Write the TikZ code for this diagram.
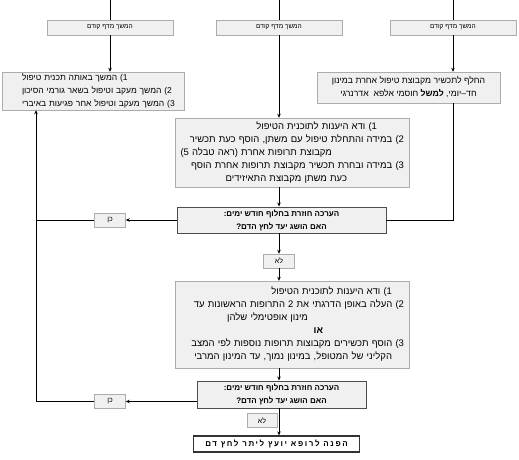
\documentclass[tikz,border=0pt]{standalone}
\usepackage{fontspec}
\usetikzlibrary{arrows.meta}
\newfontfamily\heb[Script=Hebrew]{Liberation Sans}
\TeXXeTstate=1
\newcommand\hebline[2][0pt]{\mbox{\beginR\hspace*{#1}#2\endR}}
\tikzset{
  arr/.style={-{Stealth[length=4pt,width=3.5pt]}},
  cont/.style={draw=gray!65, fill=gray!12, minimum width=126pt, minimum height=15pt,
    inner sep=1pt, font=\heb\fontsize{6.5}{8}\selectfont},
  textbox/.style={draw=gray!65, fill=gray!12, inner sep=1pt,
    font=\heb\fontsize{9}{13}\selectfont},
  stepbox/.style={textbox, align=right, text width=224pt, inner xsep=5pt,
    font=\heb\fontsize{9.5}{13}\selectfont},
  decide/.style={draw=black!70, line width=0.9pt, fill=gray!12, inner sep=1pt, align=center,
    font=\heb\bfseries\fontsize{8}{13}\selectfont},
  answer/.style={draw=gray!65, fill=gray!12, minimum width=31pt, minimum height=14pt,
    inner sep=1pt, font=\heb\fontsize{7}{8}\selectfont},
  refer/.style={draw=black!80, line width=1.3pt, fill=white, minimum width=166pt,
    minimum height=16pt, inner sep=1pt,
    font=\heb\bfseries\fontsize{8}{9}\selectfont\addfontfeature{LetterSpace=20}},
}
\begin{document}
\begin{tikzpicture}[x=1pt,y=-1pt]
  \useasboundingbox (0,0) rectangle (519,460);
  \draw
    (110,27.5) node[cont] (prev1){\hebline{המשך מדף קודם}}
    (279,27.5) node[cont] (prev2){\hebline{המשך מדף קודם}}
    (453,27.5) node[cont] (prev3){\hebline{המשך מדף קודם}};
  \coordinate (top1) at (110,0);
  \coordinate (top2) at (279,0);
  \coordinate (top3) at (453,0);
  \coordinate (lft) at (36,0);
  \node[textbox, align=left, text width=142pt, inner xsep=20pt, minimum height=38pt,
        font=\heb\fontsize{8.5}{13}\selectfont] (keep) at (93,91)
    {\hebline{1) המשך באותה תכנית טיפול}\\
     \hebline{2) המשך מעקב וטיפול בשאר גורמי הסיכון}\\
     \hebline{3) המשך מעקב וטיפול אחר פגיעות באיברי}};
  \node[textbox, align=center, minimum width=183pt, minimum height=31pt,
        font=\heb\fontsize{8.7}{13}\selectfont] (swap) at (408.5,87.5)
    {\hebline{החלף לתכשיר מקבוצת טיפול אחרת במינון}\\
     \hebline{חד–יומי, \textbf{למשל} חוסמי אלפא\ \ אדרנרגי}};
  \node[stepbox, minimum height=69pt] (step1) at (292,152.5)
    {\hebline[27pt]{1) ודא היענות לתוכנית הטיפול}\\
     \hebline{2) במידה והתחלת טיפול עם משתן, הוסף כעת תכשיר}\\
     \hebline[72pt]{מקבוצת תרופות אחרת (ראה טבלה 5)}\\
     \hebline{3) במידה ובחרת תכשיר מקבוצת תרופות אחרת הוסף}\\
     \hebline[57pt]{כעת משתן מקבוצת התאיזידים}};
  \node[decide, minimum width=209pt, minimum height=26pt] (check1) at (281.5,220)
    {\hebline{הערכה חוזרת בחלוף חודש ימים:}\\ \hebline{האם הושג יעד לחץ הדם?}};
  \node[answer] (yes1) at (110,220) {\hebline{כן}};
  \node[answer] (no1) at (279,261) {\hebline{לא}};
  \node[stepbox, minimum height=87pt] (step2) at (292,324.5)
    {\hebline[12pt]{1) ודא היענות לתוכנית הטיפול}\\
     \hebline{2) העלה באופן הדרגתי את 2 התרופות הראשונות עד}\\
     \hebline[96pt]{מינון אופטימלי שלהן}\\
     \hebline[81pt]{\textbf{או}}\\
     \hebline{3) הוסף תכשירים מקבוצות תרופות נוספות לפי המצב}\\
     \hebline[12pt]{הקליני של המטופל, במינון נמוך, עד המינון המרבי}};
  \node[decide, minimum width=169pt, minimum height=27pt] (check2) at (281.5,394.5)
    {\hebline{הערכה חוזרת בחלוף חודש ימים:}\\ \hebline{האם הושג יעד לחץ הדם?}};
  \node[answer] (yes2) at (110,401.5) {\hebline{כן}};
  \node[answer, minimum width=30pt] (no2) at (262,420.5) {\hebline{לא}};
  \node[refer] (refer) at (276.5,444) {\hebline{הפנה לרופא יועץ ליתר לחץ דם}};
  \begin{scope}[black, line width=0.7pt]
    \draw (top1) -- (prev1);
    \draw (top2) -- (prev2);
    \draw (top3) -- (prev3);
    \draw[arr] (prev1) -- (prev1 |- keep.north);
    \draw[arr] (prev2) -- (prev2 |- step1.north);
    \draw[arr] (prev3) -- (prev3 |- swap.north);
    \draw (prev3 |- swap.south) |- (check1.east);
    \draw[arr] (step1.south -| prev2) -- (check1.north -| prev2);
    \draw[arr] (check1) -- (yes1);
    \draw (yes1) -- (yes1 -| lft);
    \draw[arr] (check1.south -| no1) -- (no1);
    \draw[arr] (no1) -- (step2.north -| no1);
    \draw[arr] (step2.south -| no1) -- (check2.north -| no1);
    \draw[arr] (check2.west |- yes2) -- (yes2);
    \draw[arr] (yes2) -| (keep.south -| lft);
    \draw[arr] (check2.south -| no1) -- (refer.north -| no1);
  \end{scope}
\end{tikzpicture}
\end{document}
